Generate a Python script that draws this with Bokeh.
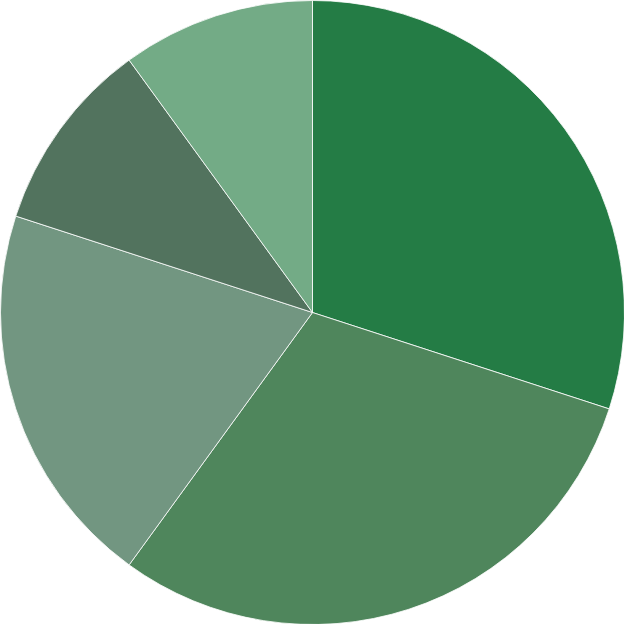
import math
from bokeh.plotting import figure
from bokeh.models import ColumnDataSource, Range1d
from bokeh.embed import file_html
from bokeh.resources import INLINE

categories = ["A", "B", "C", "D", "E"]
values = [30, 30, 20, 10, 10]
colors = ["#247c45", "#4f865c", "#729681", "#52735e", "#73ab86"]

total = sum(values)
starts, ends = [], []
acc = 0.0
for v in values:
    a0 = math.pi / 2 - 2 * math.pi * acc / total
    acc += v
    a1 = math.pi / 2 - 2 * math.pi * acc / total
    starts.append(a0)
    ends.append(a1)

src = ColumnDataSource(dict(cat=categories, val=values, color=colors, start=starts, end=ends))

p = figure(width=624, height=624, output_backend="svg", toolbar_location=None,
           x_range=Range1d(-1, 1), y_range=Range1d(-1, 1), min_border=0)
p.wedge(x=0, y=0, radius=1, start_angle="start", end_angle="end", direction="clock",
        fill_color="color", line_color="white", line_width=0.8, source=src)
p.axis.visible = False
p.grid.visible = False
p.outline_line_color = None
p.background_fill_color = None
p.border_fill_color = None
p.min_border_left = p.min_border_right = p.min_border_top = p.min_border_bottom = 0

open("out.html", "w").write(file_html(p, INLINE))
